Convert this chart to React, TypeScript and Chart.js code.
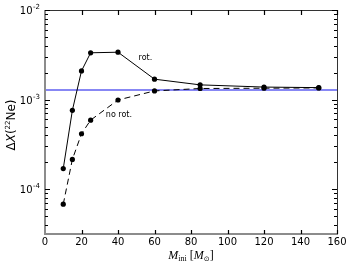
import React, { useEffect, useRef } from "react";
import { Chart, registerables } from "chart.js";

Chart.register(...registerables);

// ---- data ----
const massIni = [10, 15, 20, 25, 40, 60, 85, 120, 150];
const rotValues = [1.7e-4, 7.6e-4, 2.09e-3, 3.33e-3, 3.38e-3, 1.69e-3, 1.46e-3, 1.38e-3, 1.36e-3];
const noRotValues = [6.8e-5, 2.15e-4, 4.16e-4, 5.9e-4, 9.9e-4, 1.25e-3, 1.33e-3, 1.34e-3, 1.35e-3];
const refLineX = [0, 160];
const refLineY = [1.28e-3, 1.28e-3];
const xTickValues = [0, 20, 40, 60, 80, 100, 120, 140, 160];
const yMajorExponents = [-2, -3, -4];
const seriesNames = ["rot.", "no rot."];
const seriesLabelX = [55, 40.5];
const seriesLabelY = [2.9e-3, 6.8e-4];
const xMin = 0;
const xMax = 160;
const yMin = Math.pow(10, -4.5);
const yMax = 1e-2;

const SANS = "'DejaVu Sans', Verdana, sans-serif";
const SERIF = "'Liberation Serif', 'Times New Roman', serif";

function drawPieces(
  ctx: CanvasRenderingContext2D,
  pieces: { t: string; font: string; dy: number }[],
  cx: number,
  baseline: number
) {
  let total = 0;
  const widths = pieces.map((p) => {
    ctx.font = p.font;
    const w = ctx.measureText(p.t).width;
    total += w;
    return w;
  });
  let x = cx - total / 2;
  ctx.textAlign = "left";
  ctx.textBaseline = "alphabetic";
  pieces.forEach((p, i) => {
    ctx.font = p.font;
    ctx.fillText(p.t, x, baseline + p.dy);
    x += widths[i];
  });
}

const framePlugin = {
  id: "framePlugin",
  afterDraw(chart: any) {
    const ctx: CanvasRenderingContext2D = chart.ctx;
    const { left, right, top, bottom } = chart.chartArea;
    const xs = chart.scales.x;
    const ys = chart.scales.y;
    ctx.save();

    // frame
    ctx.strokeStyle = "#333";
    ctx.lineWidth = 1;
    ctx.beginPath();
    ctx.moveTo(left, top + 0.5);
    ctx.lineTo(right, top + 0.5);
    ctx.moveTo(right + 0.5, top);
    ctx.lineTo(right + 0.5, bottom);
    ctx.stroke();
    ctx.strokeStyle = "#8c8c8c";
    ctx.lineWidth = 2;
    ctx.beginPath();
    ctx.moveTo(left, top);
    ctx.lineTo(left, bottom);
    ctx.lineTo(right + 1, bottom);
    ctx.stroke();

    // x ticks
    ctx.strokeStyle = "#000";
    ctx.lineWidth = 1.2;
    ctx.beginPath();
    xTickValues.forEach((v) => {
      const px = Math.round(xs.getPixelForValue(v)) + 0.5;
      if (v !== xMin) {
        ctx.moveTo(px, bottom);
        ctx.lineTo(px, bottom - 4);
        ctx.moveTo(px, top);
        ctx.lineTo(px, top + 5);
      }
    });
    ctx.stroke();

    // y ticks (log)
    ctx.beginPath();
    for (let d = -5; d <= -2; d++) {
      for (let m = 1; m <= 9; m++) {
        const v = m * Math.pow(10, d);
        if (v < yMin * 0.999 || v > yMax * 1.001) continue;
        const py = Math.round(ys.getPixelForValue(v)) + 0.5;
        const len = m === 1 ? 5 : 3;
        ctx.moveTo(left, py);
        ctx.lineTo(left + len, py);
        ctx.moveTo(right, py);
        ctx.lineTo(right - len, py);
      }
    }
    ctx.stroke();

    // x tick labels
    ctx.fillStyle = "#000";
    ctx.font = "10px " + SANS;
    ctx.textAlign = "center";
    ctx.textBaseline = "top";
    xTickValues.forEach((v) => {
      ctx.fillText(String(v), xs.getPixelForValue(v), bottom + 3);
    });

    // y tick labels with superscript
    yMajorExponents.forEach((e) => {
      const py = ys.getPixelForValue(Math.pow(10, e));
      const sup = "-" + String(-e);
      ctx.font = "7px " + SANS;
      const ws = ctx.measureText(sup).width;
      ctx.textAlign = "right";
      ctx.textBaseline = "alphabetic";
      ctx.fillText(sup, left - 5, py - 1);
      ctx.font = "10px " + SANS;
      ctx.fillText("10", left - 5 - ws - 0.5, py + 4);
    });

    // series labels
    ctx.font = "8px " + SANS;
    ctx.textAlign = "center";
    ctx.textBaseline = "middle";
    seriesNames.forEach((n, i) => {
      ctx.fillText(n, xs.getPixelForValue(seriesLabelX[i]), ys.getPixelForValue(seriesLabelY[i]));
    });

    // x title
    drawPieces(
      ctx,
      [
        { t: "M", font: "italic 12px " + SERIF, dy: 0 },
        { t: "ini", font: "8px " + SERIF, dy: 2 },
        { t: " [", font: "12px " + SERIF, dy: 0 },
        { t: "M", font: "italic 12px " + SERIF, dy: 0 },
        { t: "\u2299", font: "7px " + SANS, dy: 2 },
        { t: "]", font: "12px " + SERIF, dy: 0 },
      ],
      (left + right) / 2,
      259
    );

    // y title
    ctx.save();
    ctx.translate(15, 125);
    ctx.rotate(-Math.PI / 2);
    drawPieces(
      ctx,
      [
        { t: "\u0394", font: "12px " + SANS, dy: 0 },
        { t: "X", font: "italic 12px " + SANS, dy: 0 },
        { t: "(", font: "12px " + SANS, dy: 0 },
        { t: "22", font: "7px " + SANS, dy: -5 },
        { t: "Ne", font: "12px " + SANS, dy: 0 },
        { t: ")", font: "12px " + SANS, dy: 0 },
      ],
      0,
      0
    );
    ctx.restore();

    ctx.restore();
  },
};

export default function App() {
  const ref = useRef<HTMLCanvasElement | null>(null);
  useEffect(() => {
    document.body.style.margin = "0";
    const canvas = ref.current;
    if (!canvas) return;
    const toPts = (xsArr: number[], ysArr: number[]) => xsArr.map((x, i) => ({ x, y: ysArr[i] }));
    const chart = new Chart(canvas, {
      type: "line",
      data: {
        datasets: [
          {
            label: seriesNames[0],
            data: toPts(massIni, rotValues),
            borderColor: "#000",
            backgroundColor: "#000",
            borderWidth: 1,
            pointRadius: 2.6,
            pointBorderWidth: 0,
            pointBackgroundColor: "#000",
            tension: 0,
          },
          {
            label: seriesNames[1],
            data: toPts(massIni, noRotValues),
            borderColor: "#000",
            backgroundColor: "#000",
            borderWidth: 1,
            borderDash: [6, 4],
            pointRadius: 2.6,
            pointBorderWidth: 0,
            pointBackgroundColor: "#000",
            tension: 0,
          },
          {
            label: "reference",
            data: toPts(refLineX, refLineY),
            borderColor: "rgb(95,95,240)",
            borderWidth: 1.5,
            pointRadius: 0,
            tension: 0,
          },
        ],
      },
      options: {
        animation: false,
        responsive: false,
        devicePixelRatio: 1,
        layout: { padding: { left: 45, right: 14, top: 10, bottom: 35 } },
        plugins: { legend: { display: false }, tooltip: { enabled: false } },
        scales: {
          x: { type: "linear", min: xMin, max: xMax, display: false },
          y: { type: "logarithmic", min: yMin, max: yMax, display: false },
        },
      },
      plugins: [framePlugin],
    });
    return () => chart.destroy();
  }, []);
  return (
    <div style={{ position: "absolute", left: 0, top: 0, width: 351, height: 269, background: "#fff" }}>
      <canvas ref={ref} width={351} height={269} />
    </div>
  );
}
